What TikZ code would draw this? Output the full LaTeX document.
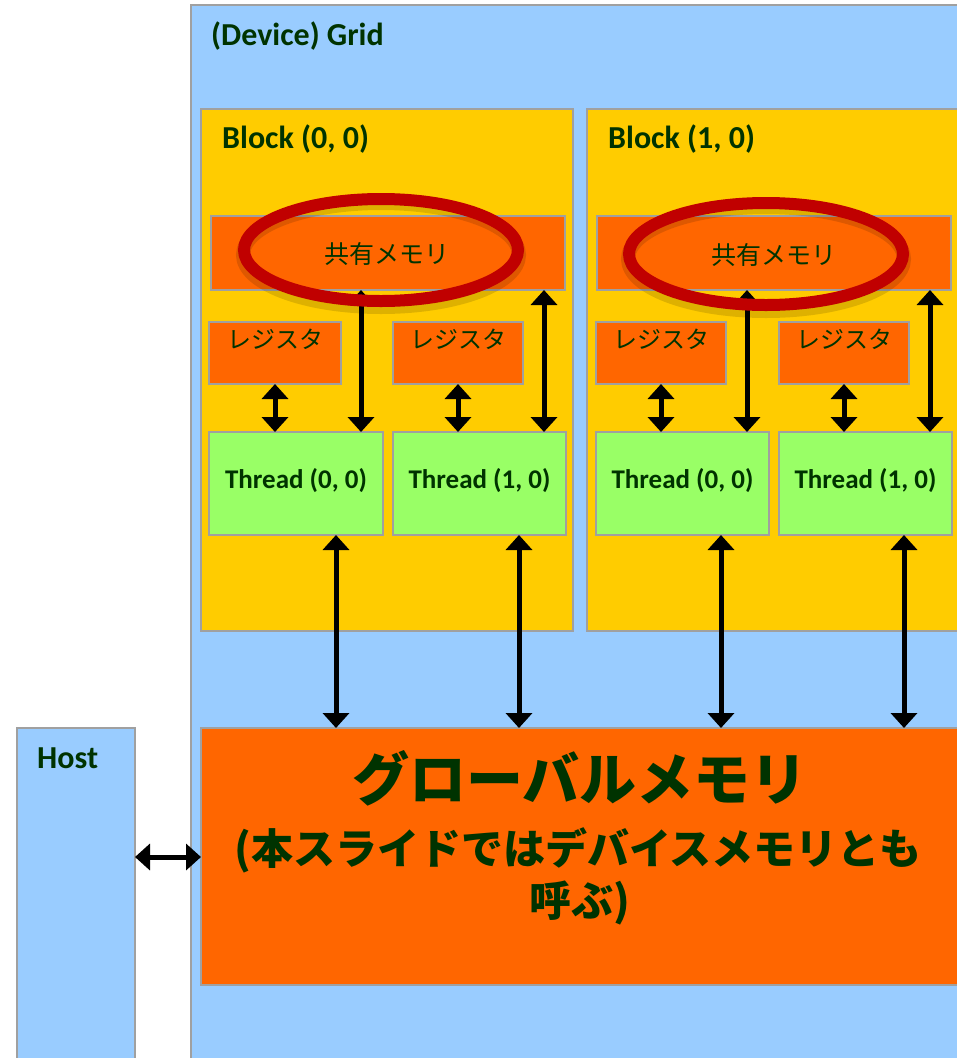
\documentclass[tikz,border=0pt]{standalone}
\usepackage{fontspec}
\setmainfont{Carlito}
\newfontfamily\jp{Noto Sans CJK JP}
\usetikzlibrary{arrows.meta}
\definecolor{gridblue}{HTML}{99CCFF}
\definecolor{blockyellow}{HTML}{FFCC00}
\definecolor{memorange}{HTML}{FF6600}
\definecolor{threadgreen}{HTML}{99FF66}
\definecolor{ringred}{HTML}{C00000}
\definecolor{edgegray}{HTML}{A0A0A0}
\definecolor{txtgreen}{HTML}{003300}
\tikzset{
  box/.style={draw=edgegray, line width=1.5pt, inner sep=0pt, anchor=north west, outer sep=0pt},
  gridbox/.style={box, fill=gridblue},
  blockbox/.style={box, fill=blockyellow},
  membox/.style={box, fill=memorange},
  regbox/.style={box, fill=memorange},
  threadbox/.style={box, fill=threadgreen},
  lbl/.style={anchor=base west, inner sep=0pt, text=txtgreen, font=\fontsize{32}{36}\selectfont\bfseries},
  thlbl/.style={inner sep=0pt, text=txtgreen, font=\fontsize{27}{30}\selectfont\bfseries},
  jplbl/.style={inner sep=0pt, text=txtgreen, font=\jp\fontsize{24}{28}\selectfont},
  dbl/.style={line width=5pt, {Triangle[width=26pt,length=15pt]}-{Triangle[width=26pt,length=15pt]}},
  ring/.style={draw=ringred, line width=12pt},
  ringshadow/.style={draw=black, opacity=0.13, line width=14pt},
}
\begin{document}
\begin{tikzpicture}[x=1pt, y=-1pt]
\clip (0,0) rectangle (957,1058);
\fill[white] (0,0) rectangle (957,1058);

% host and grid
\node[gridbox, minimum width=118pt, minimum height=400pt] (host) at (17,728) {};
\node[lbl] (hostlbl) at (37,768) {Host};
\node[gridbox, minimum width=820pt, minimum height=1100pt] (grid) at (191,5) {};
\node[lbl] (gridlbl) at (211,45) {(Device) Grid};

% blocks
\node[blockbox, minimum width=372pt, minimum height=522pt] (blk0) at (201,109) {};
\node[blockbox, minimum width=420pt, minimum height=522pt] (blk1) at (587,109) {};
\node[lbl] (blk0lbl) at (222,148) {Block (0, 0)};
\node[lbl] (blk1lbl) at (608,148) {Block (1, 0)};

% shared memory
\node[membox, minimum width=354pt, minimum height=74pt] (shm0) at (211,216) {};
\node[membox, minimum width=354pt, minimum height=74pt] (shm1) at (597,216) {};

% registers
\node[regbox, minimum width=132pt, minimum height=62pt] (reg00) at (209,322) {};
\node[regbox, minimum width=130pt, minimum height=62pt] (reg01) at (393,322) {};
\node[regbox, minimum width=130pt, minimum height=62pt] (reg10) at (596,322) {};
\node[regbox, minimum width=130pt, minimum height=62pt] (reg11) at (779,322) {};
\node[jplbl] (reg00t) at (reg00.north |- 0,339) {レジスタ};
\node[jplbl] (reg01t) at (reg01.north |- 0,339) {レジスタ};
\node[jplbl] (reg10t) at (reg10.north |- 0,339) {レジスタ};
\node[jplbl] (reg11t) at (reg11.north |- 0,339) {レジスタ};

% threads
\node[threadbox, minimum width=174pt, minimum height=103pt] (th00) at (209,432) {};
\node[threadbox, minimum width=173pt, minimum height=103pt] (th01) at (393,432) {};
\node[threadbox, minimum width=173pt, minimum height=103pt] (th10) at (596,432) {};
\node[threadbox, minimum width=173pt, minimum height=103pt] (th11) at (779,432) {};
\node[thlbl] (th00t) at ([yshift=3pt]th00.center) {Thread (0, 0)};
\node[thlbl] (th01t) at ([yshift=3pt]th01.center) {Thread (1, 0)};
\node[thlbl] (th10t) at ([yshift=3pt]th10.center) {Thread (0, 0)};
\node[thlbl] (th11t) at ([yshift=3pt]th11.center) {Thread (1, 0)};

% global memory
\node[membox, minimum width=820pt, minimum height=257pt] (glob) at (201,728) {};
\node[inner sep=0pt, text=txtgreen, font=\jp\bfseries\fontsize{57}{60}\selectfont] (globt1) at (580,778) {グローバルメモリ};
\node[inner sep=0pt, text=txtgreen, font=\jp\bfseries\fontsize{42}{48}\selectfont] (globt2) at (578,850) {(本スライドではデバイスメモリとも};
\node[inner sep=0pt, text=txtgreen, font=\jp\bfseries\fontsize{42}{48}\selectfont] (globt3) at (580,903) {呼ぶ)};

% x positions of connectors
\coordinate (xa) at (361,0);
\coordinate (xb) at (544,0);
\coordinate (xc) at (747,0);
\coordinate (xd) at (930,0);
\coordinate (xg0) at (336,0);
\coordinate (xg1) at (519,0);
\coordinate (xg2) at (721,0);
\coordinate (xg3) at (904,0);
\coordinate (yh) at (0,857);

% register <-> thread
\draw[dbl] (reg00.south) -- (reg00.south |- th00.north);
\draw[dbl] (reg01.south) -- (reg01.south |- th01.north);
\draw[dbl] (reg10.south) -- (reg10.south |- th10.north);
\draw[dbl] (reg11.south) -- (reg11.south |- th11.north);

% thread <-> global
\draw[dbl] (th00.south -| xg0) -- (glob.north -| xg0);
\draw[dbl] (th01.south -| xg1) -- (glob.north -| xg1);
\draw[dbl] (th10.south -| xg2) -- (glob.north -| xg2);
\draw[dbl] (th11.south -| xg3) -- (glob.north -| xg3);

% host <-> global
\draw[dbl] (host.east |- yh) -- (glob.west |- yh);

% shared <-> thread
\draw[dbl] (shm0.south -| xa) -- (th00.north -| xa);
\draw[dbl] (shm0.south -| xb) -- (th01.north -| xb);
\draw[dbl] (shm1.south -| xc) -- (th10.north -| xc);
\draw[dbl] (shm1.south -| xd) -- (th11.north -| xd);

% rings
\draw[ringshadow] (381,255) ellipse [x radius=138pt, y radius=52pt];
\draw[ringshadow] (766,259) ellipse [x radius=138pt, y radius=52pt];
\draw[ring] (381,250) ellipse [x radius=137pt, y radius=51pt];
\draw[ring] (766,254) ellipse [x radius=137pt, y radius=51pt];

\node[jplbl, font=\jp\fontsize{25}{28}\selectfont] (shm0t) at (387,254) {共有メモリ};
\node[jplbl, font=\jp\fontsize{25}{28}\selectfont] (shm1t) at (774,255) {共有メモリ};
\end{tikzpicture}
\end{document}
